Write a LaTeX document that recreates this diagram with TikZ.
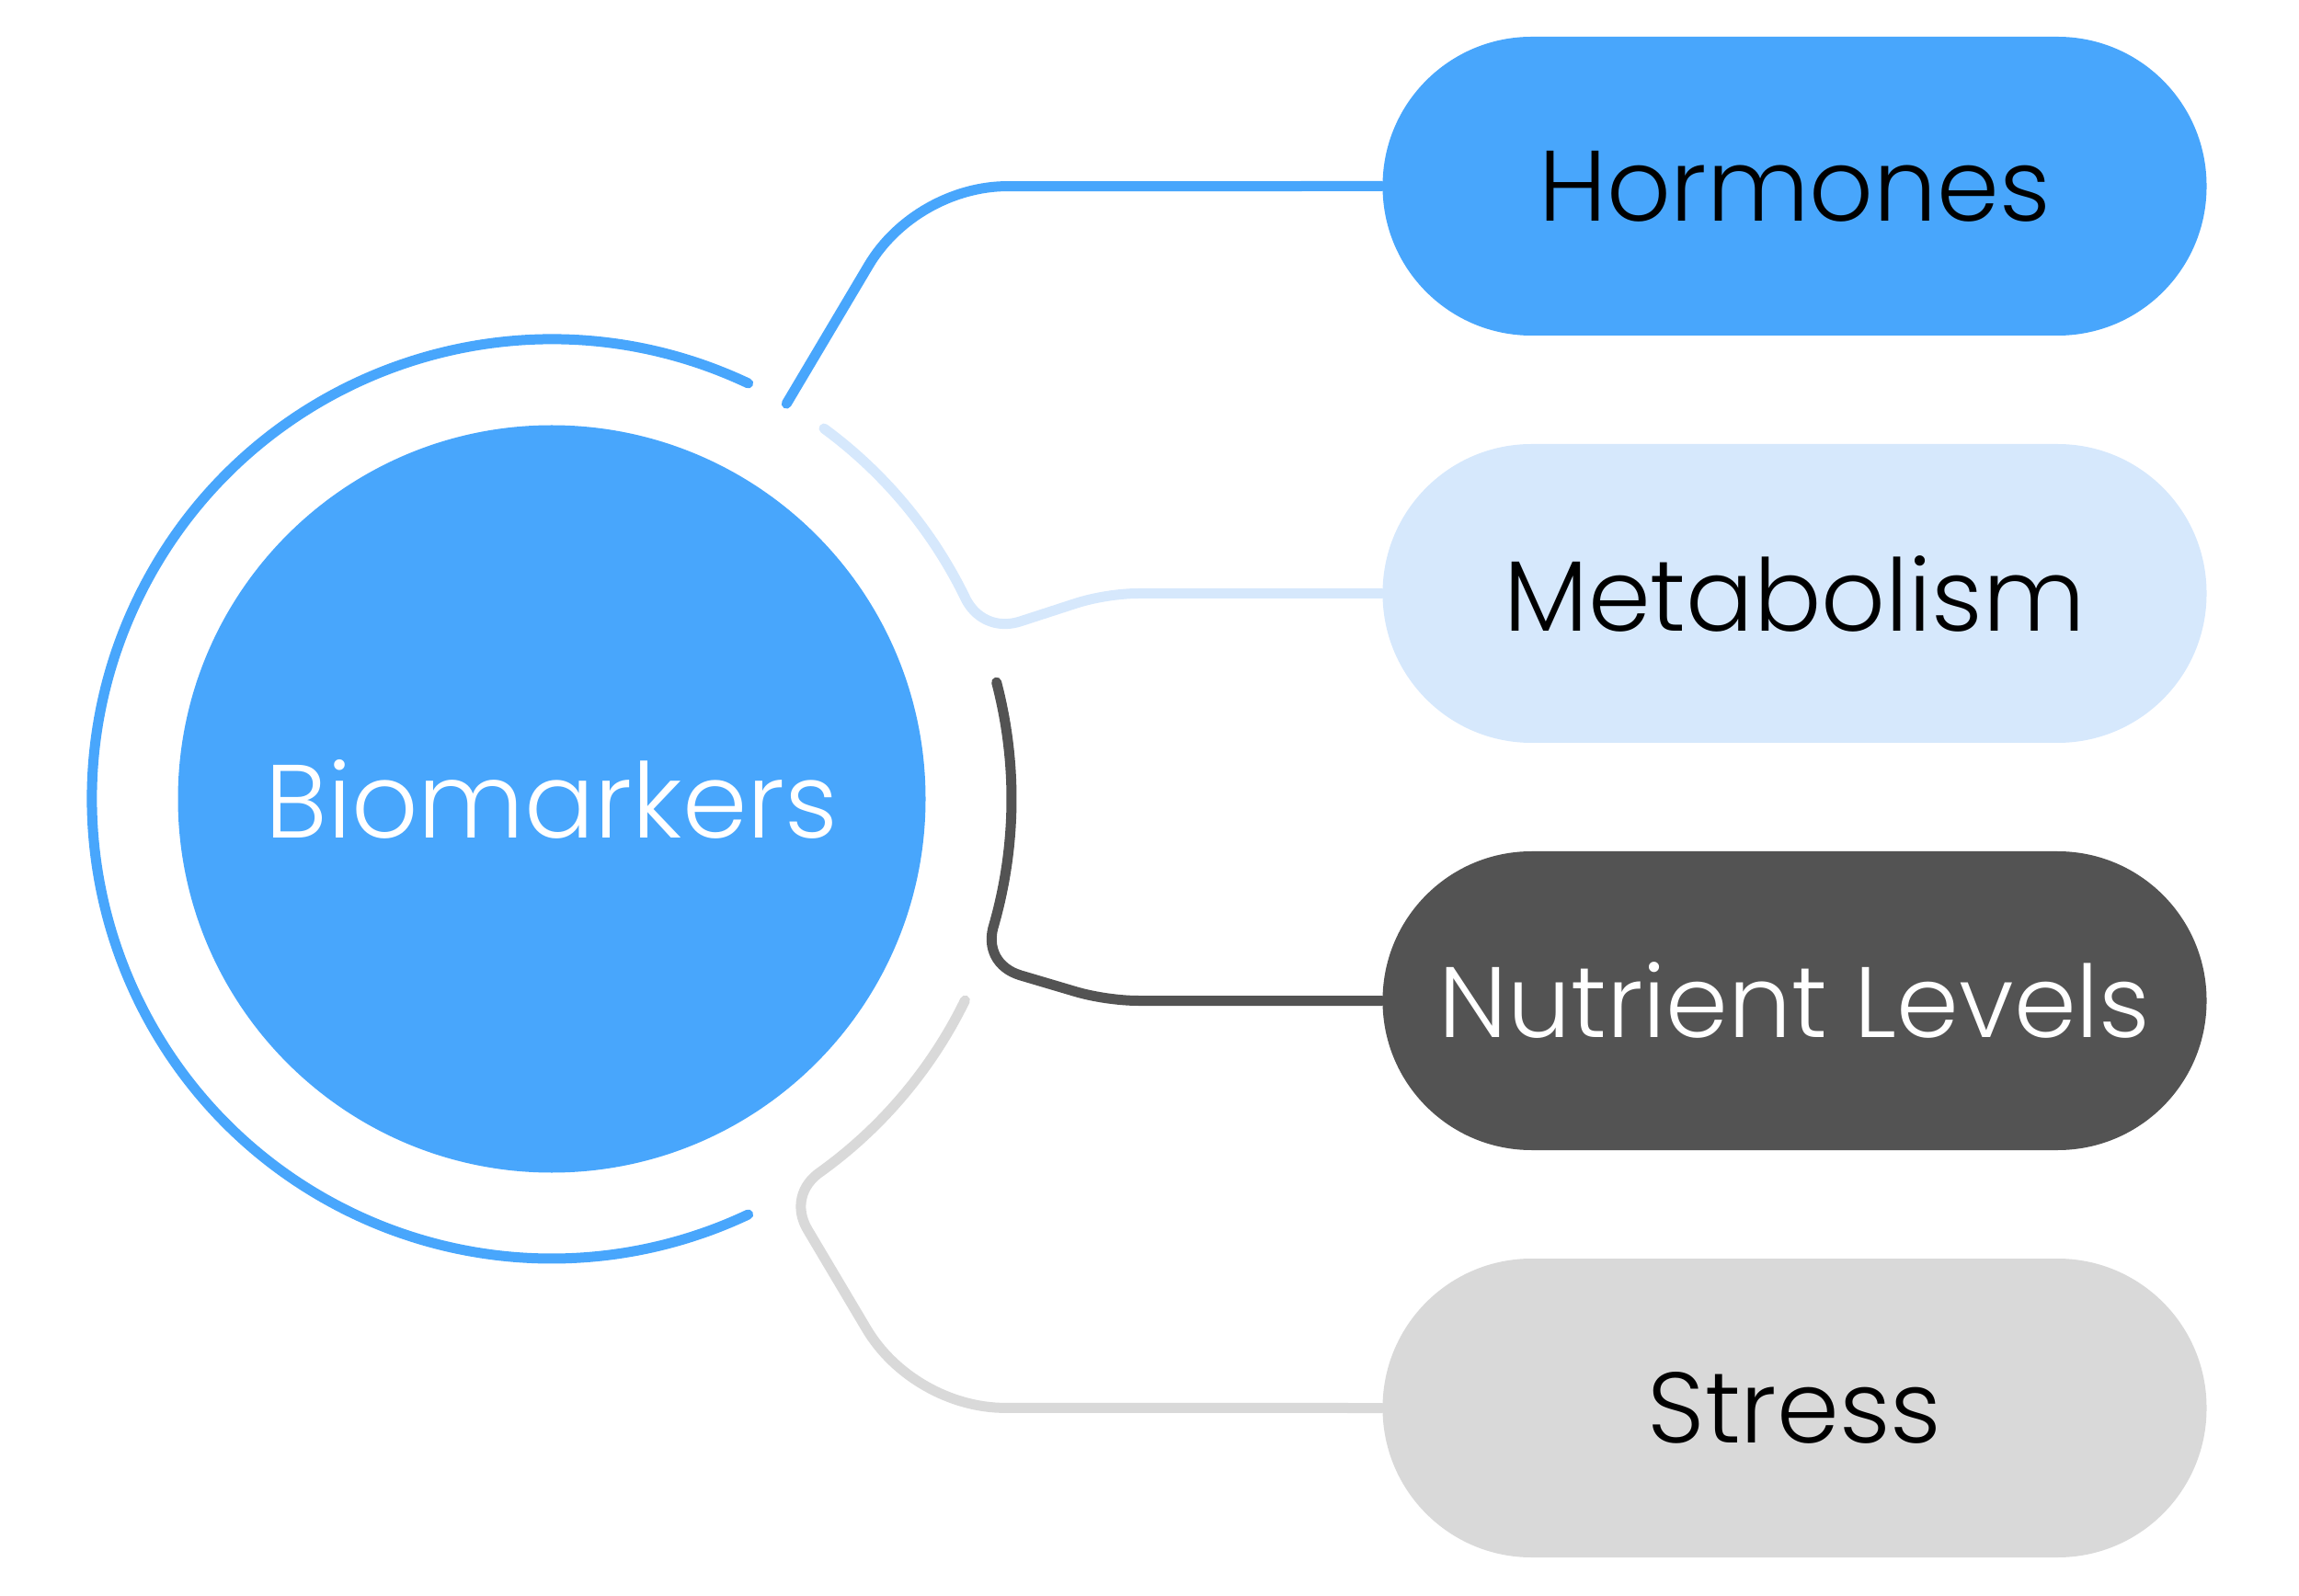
\documentclass[tikz,border=0pt]{standalone}
\usepackage{fontspec}
\setmainfont{Poppins}[UprightFont={* Light}]
\usetikzlibrary{calc}
\definecolor{cblue}{HTML}{48A6FC}
\definecolor{clight}{HTML}{D6E8FC}
\definecolor{cdark}{HTML}{535353}
\definecolor{cgray}{HTML}{D9D9D9}
\begin{document}
\begin{tikzpicture}[
  pill/.style={rectangle, rounded corners=1.62cm, minimum width=8.96cm, minimum height=3.25cm, inner sep=0pt, font=\fontsize{31}{36}\selectfont},
  conn/.style={line width=0.11cm, line cap=round, line join=round},
]
\useasboundingbox (0,0) rectangle (25,-17.36);
\coordinate (C) at (6.0,-8.69);
% pills
\node[pill, fill=cblue] (horm) at (19.515,-2.025) {Hormones};
\node[pill, fill=clight] (metab) at (19.515,-6.455) {Metabolism};
\node[pill, fill=cdark, text=white] (nutr) at (19.515,-10.885) {Nutrient Levels};
\node[pill, fill=cgray] (stress) at (19.515,-15.315) {Stress};
% central circle
\node[circle, fill=cblue, minimum size=8.13cm, inner sep=0pt, text=white, font=\fontsize{32.2}{38}\selectfont] (bio) at (C) {Biomarkers};
% key points
\coordinate (b0) at ($(C)+(64.7:5)$);
\coordinate (h0) at ($(C)+(59.3:5)$);
\coordinate (K1) at ($(C)+(59.3:7.751)$);
\coordinate (A1) at ($(K1)!1cm!(h0)$);
\coordinate (B1) at ($(K1)!1cm!(horm.west)$);
\coordinate (m0) at ($(C)+(53.7:5)$);
\coordinate (m1) at ($(C)+(26.2:5)$);
\coordinate (K2a) at ($(C)+(21:5)$);
\coordinate (K2b) at (12.03,-6.455);
\coordinate (B2a) at ($(K2a)!0.45cm!(K2b)$);
\coordinate (A2b) at ($(K2b)!0.35cm!(K2a)$);
\coordinate (B2b) at ($(K2b)!0.35cm!(metab.west)$);
\coordinate (n0) at ($(C)+(14.7:5)$);
\coordinate (n1) at ($(C)+(-15.8:5)$);
\coordinate (K3a) at ($(C)+(-21:5)$);
\coordinate (K3b) at (12.03,-10.885);
\coordinate (B3a) at ($(K3a)!0.45cm!(K3b)$);
\coordinate (A3b) at ($(K3b)!0.35cm!(K3a)$);
\coordinate (B3b) at ($(K3b)!0.35cm!(nutr.west)$);
\coordinate (s0) at ($(C)+(-26:5)$);
\coordinate (s1) at ($(C)+(-54.1:5)$);
\coordinate (K4a) at ($(C)+(-59.3:5)$);
\coordinate (K4b) at ($(C)+(-59.3:7.704)$);
\coordinate (B4a) at ($(K4a)!0.45cm!(K4b)$);
\coordinate (A4b) at ($(K4b)!1cm!(K4a)$);
\coordinate (B4b) at ($(K4b)!1cm!(stress.west)$);
% outer ring arc
\draw[conn, cblue] (b0) arc[start angle=64.7, end angle=295.3, radius=5];
% Hormones
\draw[conn, cblue] (h0) -- (A1)
  .. controls ($(A1)!0.6!(K1)$) and ($(B1)!0.6!(K1)$) .. (B1) -- (horm.west);
% Metabolism
\draw[conn, clight] (m0) arc[start angle=53.7, end angle=26.2, radius=5]
  .. controls ($(m1)!0.6!(K2a)$) and ($(B2a)!0.6!(K2a)$) .. (B2a) -- (A2b)
  .. controls ($(A2b)!0.6!(K2b)$) and ($(B2b)!0.6!(K2b)$) .. (B2b) -- (metab.west);
% Nutrient Levels
\draw[conn, cdark] (n0) arc[start angle=14.7, end angle=-15.8, radius=5]
  .. controls ($(n1)!0.6!(K3a)$) and ($(B3a)!0.6!(K3a)$) .. (B3a) -- (A3b)
  .. controls ($(A3b)!0.6!(K3b)$) and ($(B3b)!0.6!(K3b)$) .. (B3b) -- (nutr.west);
% Stress
\draw[conn, cgray] (s0) arc[start angle=-26, end angle=-54.1, radius=5]
  .. controls ($(s1)!0.6!(K4a)$) and ($(B4a)!0.6!(K4a)$) .. (B4a) -- (A4b)
  .. controls ($(A4b)!0.6!(K4b)$) and ($(B4b)!0.6!(K4b)$) .. (B4b) -- (stress.west);
\end{tikzpicture}
\end{document}
